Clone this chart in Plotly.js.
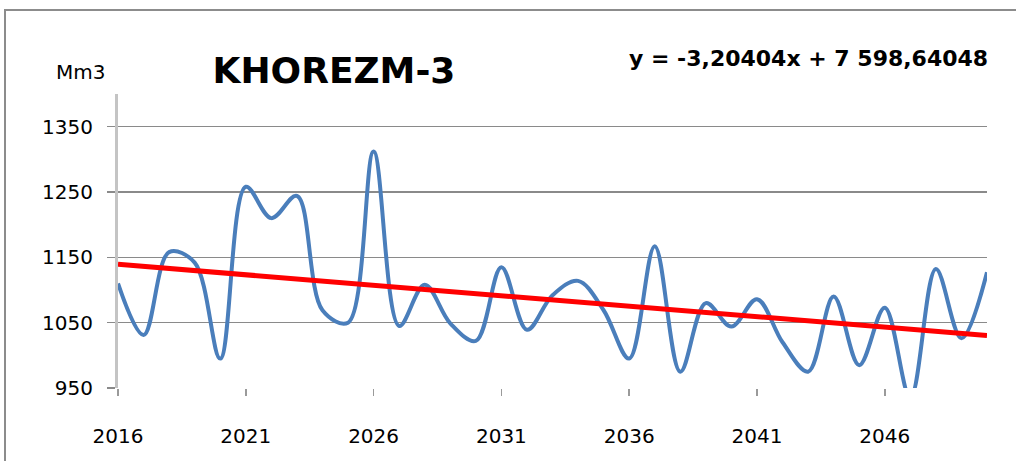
<!DOCTYPE html>
<html>
<head>
<meta charset="utf-8">
<script src="https://cdn.plot.ly/plotly-3.0.1.min.js"></script>
<style>
  html, body { margin: 0; padding: 0; background: #fff; }
  #chart { width: 1016px; height: 461px; }
</style>
</head>
<body>
<div id="chart"></div>
<script>
// ---- data ----
const years = [2016, 2017, 2018, 2019, 2020, 2021, 2022, 2023, 2024, 2025,
               2026, 2027, 2028, 2029, 2030, 2031, 2032, 2033, 2034, 2035,
               2036, 2037, 2038, 2039, 2040, 2041, 2042, 2043, 2044, 2045,
               2046, 2047, 2048, 2049, 2050];
const volumes = [1110, 1031, 1158, 1142, 995, 1258, 1210, 1244, 1069, 1050,
                 1312, 1045, 1108, 1049, 1022, 1135, 1039, 1092, 1114, 1069,
                 995, 1167, 975, 1080, 1044, 1086, 1020, 975, 1090, 985,
                 1073, 935, 1132, 1026, 1127];
const trendSlope = -3.20404;
const trendIntercept = 7598.64048;
const yTickVals = [950, 1050, 1150, 1250, 1350];
const xTickVals = [2016, 2021, 2026, 2031, 2036, 2041, 2046];
const chartTitle = 'KHOREZM-3';
const unitLabel = 'Mm3';
const equationText = 'y = -3,20404x + 7 598,64048';

const trendX = [years[0], years[years.length - 1]];
const trendY = trendX.map(x => trendSlope * x + trendIntercept);

const FONT = 'DejaVu Sans, Arial, sans-serif';

const traces = [
  {
    x: years, y: volumes, type: 'scatter', mode: 'lines',
    line: { color: '#4A7EBB', width: 4, shape: 'spline', smoothing: 1 },
    hoverinfo: 'x+y'
  },
  {
    x: trendX, y: trendY, type: 'scatter', mode: 'lines',
    line: { color: '#FF0000', width: 5 },
    hoverinfo: 'skip'
  }
];

const layout = {
  width: 1016, height: 461,
  margin: { l: 118, r: 29, t: 94, b: 73 },
  paper_bgcolor: '#ffffff', plot_bgcolor: '#ffffff',
  showlegend: false,
  title: {
    text: '<b>' + chartTitle + '</b>',
    font: { family: FONT, size: 36, color: '#000' },
    xref: 'container', yref: 'container',
    x: 334 / 1016, xanchor: 'center',
    y: 1 - 70 / 461, yanchor: 'middle'
  },
  xaxis: {
    range: [2016, 2050],
    tickmode: 'array', tickvals: xTickVals, ticktext: xTickVals.map(String),
    ticks: 'outside', ticklen: 7, tickwidth: 1.5, tickcolor: '#9a9a9a',
    showgrid: false, zeroline: false,
    showline: false,
    ticklabelstandoff: 23,
    tickfont: { family: FONT, size: 20, color: '#000' }
  },
  yaxis: {
    range: [950, 1400],
    tickmode: 'array', tickvals: yTickVals, ticktext: yTickVals.map(String),
    ticks: 'outside', ticklen: 8, tickwidth: 1.5, tickcolor: '#8a8a8a',
    showgrid: true, gridcolor: '#8a8a8a', gridwidth: 1.5,
    zeroline: false,
    showline: true, linecolor: '#c4c4c4', linewidth: 3,
    ticklabelstandoff: 10,
    tickfont: { family: FONT, size: 20, color: '#000' }
  },
  annotations: [
    {
      text: unitLabel, xref: 'paper', yref: 'paper',
      x: (80 - 118) / 869, y: (388 - 72) / 294,
      xanchor: 'center', yanchor: 'middle', showarrow: false,
      font: { family: FONT, size: 20, color: '#000' }
    },
    {
      text: '<b>' + equationText + '</b>', xref: 'paper', yref: 'paper',
      x: (990 - 118) / 869, y: (388 - 58) / 294,
      xanchor: 'right', yanchor: 'middle', showarrow: false,
      font: { family: FONT, size: 22, color: '#000' }
    }
  ],
  shapes: [
    {
      type: 'path', xref: 'paper', yref: 'paper',
      path: 'M ' + ((5 - 118) / 869) + ' ' + ((388 - 470) / 294) +
            ' L ' + ((5 - 118) / 869) + ' ' + ((388 - 10) / 294) +
            ' L ' + ((1030 - 118) / 869) + ' ' + ((388 - 10) / 294),
      line: { color: '#8c8c8c', width: 2 }
    }
  ]
};

Plotly.newPlot('chart', traces, layout, { displayModeBar: false, staticPlot: true });
</script>
</body>
</html>
